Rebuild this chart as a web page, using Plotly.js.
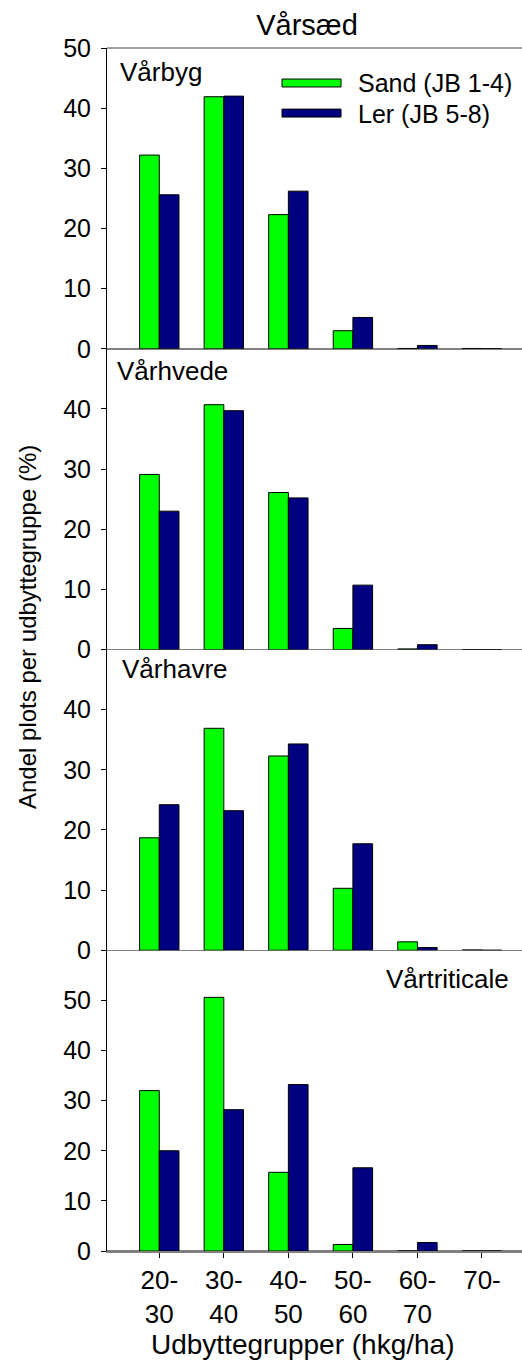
<!DOCTYPE html>
<html>
<head>
<meta charset="utf-8">
<script src="https://cdn.plot.ly/plotly-3.0.1.min.js"></script>
<style>html,body{margin:0;padding:0;background:#fff;}#chart{width:522px;height:1369px;}</style>
</head>
<body>
<div id="chart"></div>
<script>
// ---- data ----
const categories = ['20-<br>30', '30-<br>40', '40-<br>50', '50-<br>60', '60-<br>70', '70-'];
const seriesNames = ['Sand (JB 1-4)', 'Ler (JB 5-8)'];
const panelNames = ['Vårbyg', 'Vårhvede', 'Vårhavre', 'Vårtriticale'];

const varbygSand  = [32.2, 41.9, 22.3, 3.0, 0.05, 0.05];
const varbygLer   = [25.6, 42.0, 26.2, 5.2, 0.55, 0];
const varhvedeSand = [29.1, 40.7, 26.1, 3.5, 0.1, 0];
const varhvedeLer  = [23.0, 39.7, 25.2, 10.7, 0.8, 0];
const varhavreSand = [18.7, 36.9, 32.3, 10.3, 1.4, 0.05];
const varhavreLer  = [24.2, 23.2, 34.3, 17.7, 0.45, 0];
const triticaleSand = [32.0, 50.6, 15.7, 1.3, 0, 0];
const triticaleLer  = [20.0, 28.2, 33.2, 16.6, 1.7, 0];

const yTicks1 = [0, 10, 20, 30, 40, 50];
const yTicks2 = [0, 10, 20, 30, 40];
const yTicks3 = [0, 10, 20, 30, 40];
const yTicks4 = [0, 10, 20, 30, 40, 50];

// ---- styling ----
const sandColor = '#00ff00';
const lerColor = '#000080';
const FONT = '"Liberation Sans", Arial, sans-serif';

function bar(y, name, color, yaxis) {
  return {
    type: 'bar', x: categories, y: y, name: name, xaxis: 'x', yaxis: yaxis,
    marker: {color: color, line: {color: '#000000', width: 1}},
    showlegend: false, hoverinfo: 'x+y+name'
  };
}

const data = [
  bar(varbygSand, seriesNames[0], sandColor, 'y4'),
  bar(varbygLer, seriesNames[1], lerColor, 'y4'),
  bar(varhvedeSand, seriesNames[0], sandColor, 'y3'),
  bar(varhvedeLer, seriesNames[1], lerColor, 'y3'),
  bar(varhavreSand, seriesNames[0], sandColor, 'y2'),
  bar(varhavreLer, seriesNames[1], lerColor, 'y2'),
  bar(triticaleSand, seriesNames[0], sandColor, 'y'),
  bar(triticaleLer, seriesNames[1], lerColor, 'y')
];

function yax(domain, range, ticks) {
  return {
    domain: domain, range: range, tickvals: ticks, ticktext: ticks.map(String),
    showline: true, linecolor: '#000000', linewidth: 1,
    ticks: 'outside', ticklen: 5, tickcolor: '#000000', tickwidth: 1,
    ticklabelstandoff: 5,
    showgrid: false, zeroline: true, zerolinecolor: '#808080', zerolinewidth: 1.5,
    tickfont: {family: FONT, size: 25, color: '#000000'}, anchor: 'x', fixedrange: true
  };
}

const layout = {
  width: 522, height: 1369,
  margin: {l: 107, r: 0, t: 48, b: 118},
  paper_bgcolor: '#ffffff', plot_bgcolor: '#ffffff',
  barmode: 'group', bargap: 0.39, bargroupgap: 0,
  showlegend: false,
  font: {family: FONT, color: '#000000'},
  title: {text: 'Vårsæd', font: {family: FONT, size: 29, color: '#000000'},
          x: 307 / 522, xref: 'container', xanchor: 'center',
          y: 1 - 25 / 1369, yref: 'container', yanchor: 'middle'},
  xaxis: {
    type: 'category', range: [-0.81, 5.62], anchor: 'y', domain: [0, 1],
    showline: true, linecolor: '#808080', linewidth: 1.5,
    ticks: 'outside', ticklen: 5, tickcolor: '#000000', tickwidth: 1,
    showgrid: false, tickfont: {family: FONT, size: 26, color: '#000000'}, fixedrange: true
  },
  yaxis: yax([0, 0.25], [0, 60], yTicks4),
  yaxis2: yax([0.25, 0.5], [0, 50], yTicks3),
  yaxis3: yax([0.5, 0.75], [0, 50], yTicks2),
  yaxis4: yax([0.75, 1], [0, 50], yTicks1),
  shapes: [
    {type: 'line', xref: 'paper', yref: 'paper', x0: 0, x1: 1, y0: 1, y1: 1,
     line: {color: '#808080', width: 1.5}},
    {type: 'rect', xref: 'paper', yref: 'paper', x0: 0.4217, x1: 0.5639, y0: 0.9676, y1: 0.9742,
     fillcolor: sandColor, line: {color: '#000000', width: 1}},
    {type: 'rect', xref: 'paper', yref: 'paper', x0: 0.4217, x1: 0.5639, y0: 0.9426, y1: 0.9492,
     fillcolor: lerColor, line: {color: '#000000', width: 1}}
  ],
  annotations: [
    {text: panelNames[0], xref: 'paper', yref: 'paper', x: 0.0265, y: 0.980, xanchor: 'left', yanchor: 'middle', showarrow: false, font: {size: 26}},
    {text: panelNames[1], xref: 'paper', yref: 'paper', x: 0.0193, y: 0.7315, xanchor: 'left', yanchor: 'middle', showarrow: false, font: {size: 26}},
    {text: panelNames[2], xref: 'paper', yref: 'paper', x: 0.0313, y: 0.4838, xanchor: 'left', yanchor: 'middle', showarrow: false, font: {size: 26}},
    {text: panelNames[3], xref: 'paper', yref: 'paper', x: 0.9735, y: 0.2261, xanchor: 'right', yanchor: 'middle', showarrow: false, font: {size: 26}},
    {text: seriesNames[0], xref: 'paper', yref: 'paper', x: 0.6, y: 0.9709, xanchor: 'left', yanchor: 'middle', showarrow: false, font: {size: 25}},
    {text: seriesNames[1], xref: 'paper', yref: 'paper', x: 0.6, y: 0.9451, xanchor: 'left', yanchor: 'middle', showarrow: false, font: {size: 25}},
    {text: 'Andel plots per udbyttegruppe (%)', xref: 'paper', yref: 'paper', x: -0.1928, y: 0.5187,
     xanchor: 'center', yanchor: 'middle', textangle: -90, showarrow: false, font: {size: 24}},
    {text: 'Udbyttegrupper (hkg/ha)', xref: 'paper', yref: 'paper', x: 0.4723, y: -0.0781,
     xanchor: 'center', yanchor: 'middle', showarrow: false, font: {size: 28}}
  ]
};

Plotly.newPlot('chart', data, layout, {displayModeBar: false, staticPlot: true});
</script>
</body>
</html>
